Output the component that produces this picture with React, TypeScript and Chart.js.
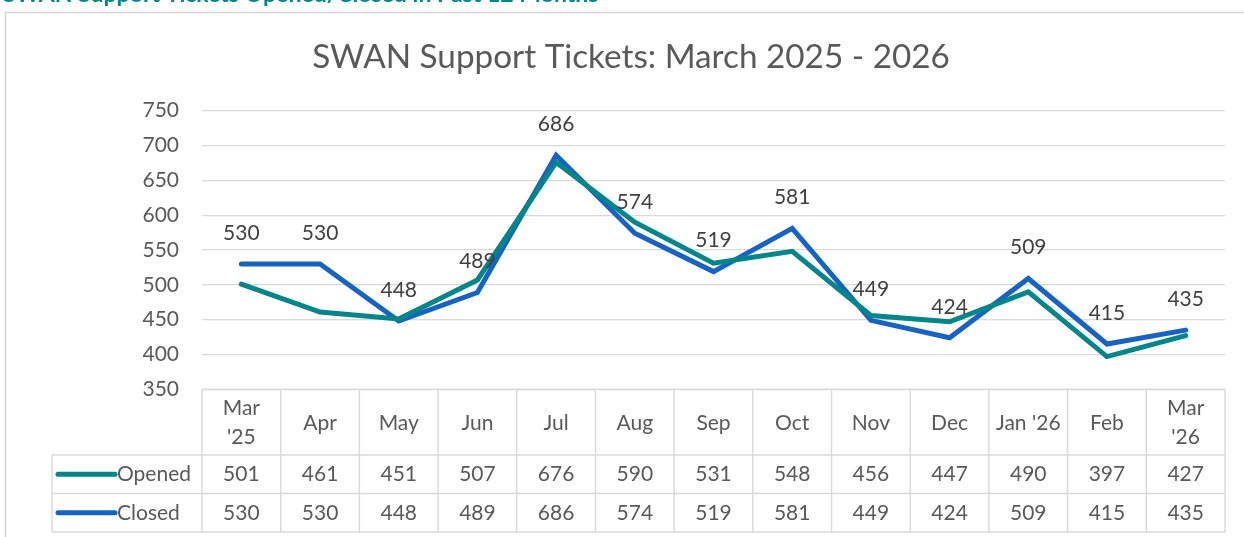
import React, { useEffect, useRef } from 'react';
import { Chart, registerables } from 'chart.js';

Chart.register(...registerables);

const TITLE = 'SWAN Support Tickets: March 2025 - 2026';
const HEADING = 'SWAN Support Tickets Opened/Closed in Past 12 Months';
const categories = ["Mar '25", 'Apr', 'May', 'Jun', 'Jul', 'Aug', 'Sep', 'Oct', 'Nov', 'Dec', "Jan '26", 'Feb', "Mar '26"];
const headerLines = [['Mar', "'25"], ['Apr'], ['May'], ['Jun'], ['Jul'], ['Aug'], ['Sep'], ['Oct'], ['Nov'], ['Dec'], ["Jan '26"], ['Feb'], ['Mar', "'26"]];
const seriesNames = ['Opened', 'Closed'];
const opened = [501, 461, 451, 507, 676, 590, 531, 548, 456, 447, 490, 397, 427];
const closed = [530, 530, 448, 489, 686, 574, 519, 581, 449, 424, 509, 415, 435];
const yMin = 350;
const yMax = 750;
const yStep = 50;

const TEAL = '#00868A';
const BLUE = '#1763C3';
const GRID = '#d9d9d9';
const FONT = "Lato, 'Open Sans', sans-serif";
const FS = 21;

function fitFont(ctx: CanvasRenderingContext2D, text: string, weight: string, target: number) {
  ctx.font = `${weight} 40px ${FONT}`;
  const w = ctx.measureText(text).width;
  return (40 * target) / w;
}

const tablePlugin = {
  id: 'swanTable',
  beforeDraw(chart: any) {
    const ctx = chart.ctx as CanvasRenderingContext2D;
    ctx.save();
    // frame
    ctx.strokeStyle = '#d6d6d6';
    ctx.lineWidth = 1.5;
    ctx.beginPath();
    ctx.moveTo(5.5, 540);
    ctx.lineTo(5.5, 12.5);
    ctx.lineTo(1250, 12.5);
    ctx.stroke();
    // heading (cropped)
    const hs = fitFont(ctx, HEADING, 'bold', 596);
    ctx.font = `bold ${hs}px ${FONT}`;
    ctx.fillStyle = '#00878C';
    ctx.textAlign = 'left';
    ctx.textBaseline = 'alphabetic';
    ctx.fillText(HEADING, 3, 2);
    // title
    const ts = fitFont(ctx, TITLE, 'normal', 638);
    ctx.font = `normal ${ts}px ${FONT}`;
    ctx.fillStyle = '#595959';
    ctx.textAlign = 'center';
    ctx.fillText(TITLE, 631, 67.5);
    ctx.restore();
  },
  afterDraw(chart: any) {
    const ctx = chart.ctx as CanvasRenderingContext2D;
    const area = chart.chartArea;
    const xs = chart.scales.x;
    const n = categories.length;
    const colW = (area.right - area.left) / n;
    const top = area.bottom;
    const r1 = 455;
    const r2 = 493.5;
    const r3 = 532;
    const legLeft = 52;
    ctx.save();
    ctx.strokeStyle = GRID;
    ctx.lineWidth = 1.4;
    ctx.beginPath();
    ctx.moveTo(area.left, top);
    ctx.lineTo(area.right, top);
    for (const y of [r1, r2, r3]) {
      ctx.moveTo(legLeft, y);
      ctx.lineTo(area.right, y);
    }
    for (let i = 0; i <= n; i++) {
      const x = area.left + i * colW;
      ctx.moveTo(x, top);
      ctx.lineTo(x, r3);
    }
    ctx.moveTo(legLeft, r1);
    ctx.lineTo(legLeft, r3);
    ctx.stroke();

    ctx.fillStyle = '#595959';
    ctx.font = `${FS}px ${FONT}`;
    ctx.textAlign = 'center';
    ctx.textBaseline = 'middle';
    const hMid = (top + r1) / 2;
    headerLines.forEach((lines, i) => {
      const cx = xs.getPixelForValue(i);
      if (lines.length === 1) {
        ctx.fillText(lines[0], cx, hMid + 1);
      } else {
        ctx.fillText(lines[0], cx, hMid - 14);
        ctx.fillText(lines[1], cx, hMid + 15);
      }
    });
    const rows = [opened, closed];
    const colors = [TEAL, BLUE];
    const mids = [(r1 + r2) / 2, (r2 + r3) / 2];
    rows.forEach((vals, k) => {
      const y = mids[k];
      vals.forEach((v, i) => {
        ctx.textAlign = 'center';
        ctx.fillText(String(v), xs.getPixelForValue(i), y);
      });
      ctx.strokeStyle = colors[k];
      ctx.lineWidth = 5;
      ctx.lineCap = 'round';
      ctx.beginPath();
      ctx.moveTo(58, y);
      ctx.lineTo(115, y);
      ctx.stroke();
      ctx.textAlign = 'left';
      ctx.fillText(seriesNames[k], 117, y);
    });

    // data labels for Closed
    const meta = chart.getDatasetMeta(1);
    ctx.fillStyle = '#404040';
    ctx.textAlign = 'center';
    ctx.textBaseline = 'middle';
    meta.data.forEach((p: any, i: number) => {
      ctx.fillText(String(closed[i]), p.x, p.y - 31);
    });
    ctx.restore();
  },
};

export default function App() {
  const ref = useRef<HTMLCanvasElement>(null);
  useEffect(() => {
    document.body.style.margin = '0';
    const canvas = ref.current!;
    const chart = new Chart(canvas, {
      type: 'line',
      data: {
        labels: categories,
        datasets: [
          {
            label: seriesNames[0],
            data: opened,
            borderColor: TEAL,
            backgroundColor: TEAL,
            borderWidth: 5,
            pointRadius: 0,
            tension: 0,
            borderCapStyle: 'round',
          },
          {
            label: seriesNames[1],
            data: closed,
            borderColor: BLUE,
            backgroundColor: BLUE,
            borderWidth: 5,
            pointRadius: 0,
            tension: 0,
            borderCapStyle: 'round',
          },
        ],
      },
      options: {
        responsive: false,
        animation: false,
        devicePixelRatio: 1,
        layout: { padding: { left: 0, right: 19, top: 110.7, bottom: 147.7 } },
        plugins: {
          legend: { display: false },
          title: { display: false },
          tooltip: { enabled: false },
        },
        scales: {
          x: { type: 'category', display: false, offset: true },
          y: {
            min: yMin,
            max: yMax,
            ticks: { stepSize: yStep, font: { family: FONT, size: FS }, color: '#595959', padding: 23 },
            grid: { color: GRID, lineWidth: 1.3, drawTicks: false },
            border: { display: false },
            afterFit: (s: any) => {
              s.width = 202;
            },
          },
        },
      },
      plugins: [tablePlugin],
    } as any);
    return () => chart.destroy();
  }, []);
  return <canvas ref={ref} width={1244} height={537} style={{ display: 'block' }} />;
}
